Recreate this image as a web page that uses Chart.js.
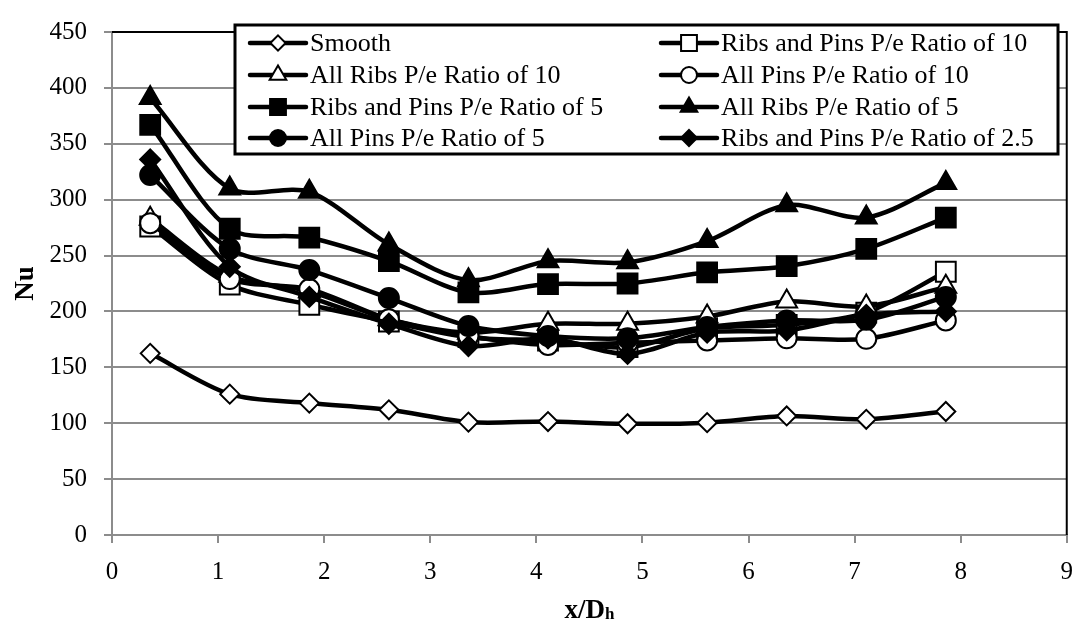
<!DOCTYPE html>
<html>
<head>
<meta charset="utf-8">
<script src="https://cdn.jsdelivr.net/npm/chart.js@4.4.0/dist/chart.umd.min.js"></script>
<style>
body{margin:0;background:#fff}
#wrap{width:1087px;height:626px;position:relative}
</style>
</head>
<body>
<div id="wrap"><canvas id="myChart"></canvas></div>
<script>
// x/Dh stations
const xPositions = [0.36, 1.11, 1.86, 2.61, 3.36, 4.11, 4.86, 5.61, 6.36, 7.11, 7.86]

// Nu per configuration
const smooth       = [162.5, 126, 118, 112, 101, 101.5, 99.5, 100.5, 106.5, 103.5, 110.5]
const ribsPins10   = [276, 224, 206, 191, 177, 174, 168, 185, 188, 199, 235.5]
const allRibs10    = [283, 232, 218, 193, 181, 189, 189, 195.5, 209, 204.5, 222]
const allPins10    = [279, 229, 220, 193, 178, 170, 172, 174, 176, 175.5, 192]
const ribsPins5    = [367, 274, 266, 245, 217, 224.5, 225, 235, 240.5, 256, 284]
const allRibs5     = [391, 310, 307, 260, 228, 245, 244, 263, 295, 284, 315]
const allPins5     = [322, 256, 237, 212, 187, 178, 176, 186, 192, 192.5, 213]
const ribsPins2_5  = [336, 240, 213, 189, 169, 176, 162, 181, 183, 197, 200]

const seriesNames = [
    'Smooth',
    'Ribs and Pins P/e Ratio of 10',
    'All Ribs P/e Ratio of 10',
    'All Pins P/e Ratio of 10',
    'Ribs and Pins P/e Ratio of 5',
    'All Ribs P/e Ratio of 5',
    'All Pins P/e Ratio of 5',
    'Ribs and Pins P/e Ratio of 2.5'
]
const seriesValues = [smooth, ribsPins10, allRibs10, allPins10, ribsPins5, allRibs5, allPins5, ribsPins2_5]

const yTicks = [0, 450, 50]   // min, max, step
const xTicks = [0, 9, 1]

// marker look for each series
const markerStyles = [
    {shape:'rectRot',  fill:'#fff', r:9.5},
    {shape:'rect',     fill:'#fff', r:14},
    {shape:'triangle', fill:'#fff', r:12},
    {shape:'circle',   fill:'#fff', r:10},
    {shape:'rect',     fill:'#000', r:14},
    {shape:'triangle', fill:'#000', r:12},
    {shape:'circle',   fill:'#000', r:10},
    {shape:'rectRot',  fill:'#000', r:10}
]

const serif = '"Liberation Serif", "Times New Roman", serif'
const gridGray = '#8c8c8c'

// draw a marker the same way chart.js does, for the legend
const drawMarker = (ctx, shape, x, y, r, fill) =>{
    ctx.beginPath()
    if(shape === 'circle'){
        ctx.arc(x, y, r, 0, Math.PI*2)
    }else if(shape === 'rect'){
        const h = r*Math.SQRT1_2
        ctx.rect(x-h, y-h, 2*h, 2*h)
    }else if(shape === 'triangle'){
        for(let k=0;k<3;k++){
            const a = -Math.PI/2 + k*2*Math.PI/3
            const px = x + Math.cos(a)*r, py = y + Math.sin(a)*r
            k ? ctx.lineTo(px,py) : ctx.moveTo(px,py)
        }
        ctx.closePath()
    }else{
        ctx.moveTo(x, y-r); ctx.lineTo(x+r, y); ctx.lineTo(x, y+r); ctx.lineTo(x-r, y)
        ctx.closePath()
    }
    ctx.fillStyle = fill
    ctx.fill()
    ctx.lineWidth = 2
    ctx.strokeStyle = '#000'
    ctx.stroke()
}

// legend box, plot border and axis titles
const extras = {
    id:'extras',
    afterDraw(chart){
        const ctx = chart.ctx
        const area = chart.chartArea
        ctx.save()

        // black frame on top and right of the plot area
        ctx.strokeStyle = '#000'
        ctx.lineWidth = 2
        ctx.beginPath()
        ctx.moveTo(area.left, area.top)
        ctx.lineTo(area.right, area.top)
        ctx.lineTo(area.right, area.bottom)
        ctx.stroke()

        // legend
        ctx.fillStyle = '#fff'
        ctx.fillRect(235, 25, 823, 129)
        ctx.lineWidth = 3
        ctx.strokeStyle = '#000'
        ctx.strokeRect(235, 25, 823, 129)
        const rows = [43, 75, 107, 138]
        const cols = [250, 661]
        ctx.font = '26px ' + serif
        ctx.textBaseline = 'middle'
        ctx.textAlign = 'left'
        seriesNames.forEach((name, i) =>{
            const y = rows[Math.floor(i/2)]
            const x0 = cols[i%2]
            ctx.strokeStyle = '#000'
            ctx.lineWidth = 4.5
            ctx.lineCap = 'round'
            ctx.beginPath()
            ctx.moveTo(x0, y)
            ctx.lineTo(x0+56, y)
            ctx.stroke()
            const m = markerStyles[i]
            drawMarker(ctx, m.shape, x0+28, y, m.r*0.8, m.fill)
            ctx.fillStyle = '#000'
            ctx.fillText(name, x0+60, y+1)
        })

        // y title
        ctx.save()
        ctx.translate(33, (area.top+area.bottom)/2)
        ctx.rotate(-Math.PI/2)
        ctx.font = 'bold 27px ' + serif
        ctx.textAlign = 'center'
        ctx.textBaseline = 'alphabetic'
        ctx.fillStyle = '#000'
        ctx.fillText('Nu', 0, 0)
        ctx.restore()

        // x title with small h
        ctx.textBaseline = 'alphabetic'
        ctx.fillStyle = '#000'
        const big = 'bold 27px ' + serif, small = 'bold 17px ' + serif
        ctx.font = big
        const w1 = ctx.measureText('x/D').width
        ctx.font = small
        const w2 = ctx.measureText('h').width
        const cx = (area.left+area.right)/2
        const startX = cx - (w1+w2)/2
        ctx.font = big
        ctx.fillText('x/D', startX, 618)
        ctx.font = small
        ctx.fillText('h', startX+w1, 619)

        ctx.restore()
    }
}

const datasets = seriesValues.map((vals, i) =>({
    label: seriesNames[i],
    data: xPositions.map((x, k) =>({x:x, y:vals[k]})),
    borderColor:'#000',
    borderWidth:4.5,
    tension:0.3,
    pointStyle: markerStyles[i].shape,
    pointRadius: markerStyles[i].r,
    pointBackgroundColor: markerStyles[i].fill,
    pointBorderColor:'#000',
    pointBorderWidth:2,
    order: -i
}))

const chart = new Chart(document.querySelector('#myChart'),{
    type:'line',
    data:{datasets:datasets},
    options:{
        responsive:true,
        maintainAspectRatio:false,
        animation:false,
        layout:{padding:{top:16,right:8,left:0,bottom:0}},
        plugins:{legend:{display:false}, tooltip:{enabled:false}},
        scales:{
            x:{
                type:'linear', min:xTicks[0], max:xTicks[1],
                ticks:{stepSize:xTicks[2], color:'#000', font:{family:serif, size:25}, padding:14, maxRotation:0},
                grid:{drawOnChartArea:false, drawTicks:true, tickLength:8, color:gridGray, lineWidth:2},
                border:{color:gridGray, width:2},
                afterFit(s){ s.height = 91 }
            },
            y:{
                min:yTicks[0], max:yTicks[1],
                ticks:{stepSize:yTicks[2], color:'#000', font:{family:serif, size:25}, padding:17},
                grid:{color:gridGray, lineWidth:2, tickLength:8},
                border:{color:gridGray, width:2},
                afterFit(s){ s.width = 112 }
            }
        }
    },
    plugins:[extras]
})
</script>
</body>
</html>
